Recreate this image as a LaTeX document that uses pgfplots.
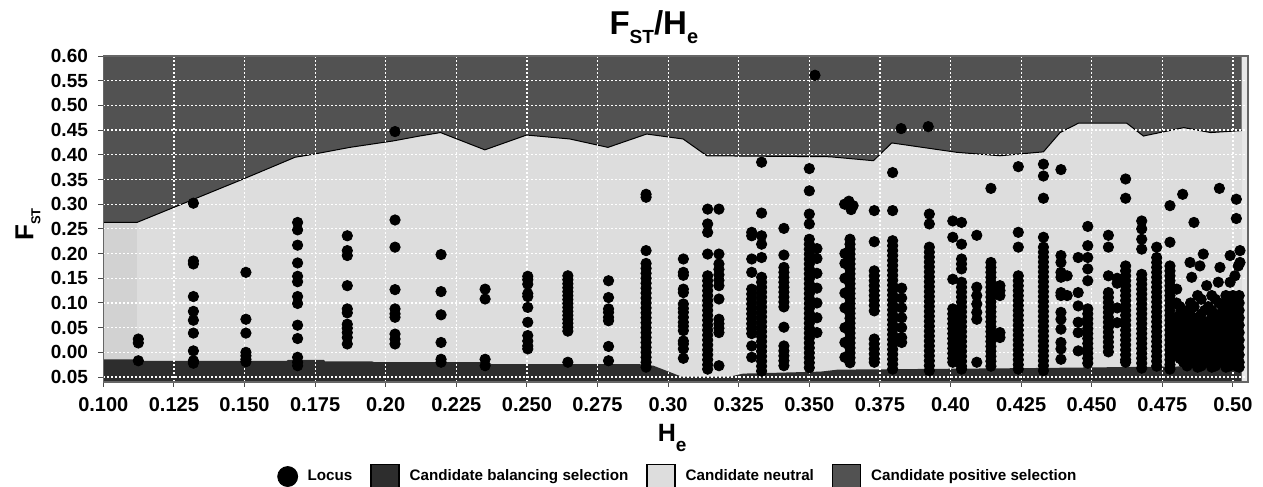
\documentclass[border=0pt]{standalone}
\usepackage{pgfplots}
\pgfplotsset{compat=1.18}
\usepackage{fontspec}
\setmainfont{Liberation Sans}
\definecolor{posc}{HTML}{525252}
\definecolor{neuc}{HTML}{DDDDDD}
\definecolor{balc}{HTML}{2D2D2D}
\definecolor{leftc}{HTML}{D2D2D2}
\definecolor{rightc}{HTML}{E8E8E8}
\newcommand{\sub}[3]{\raisebox{#1}{\fontsize{#2}{#2}\selectfont #3}}
\begin{document}
\begin{tikzpicture}
\begin{axis}[
  at={(51.65pt,52.5pt)}, anchor=south west,
  scale only axis, width=572.3pt, height=163pt,
  xmin=0.1, xmax=0.5053, ymin=-0.06, ymax=0.60,
  set layers=standard,
  xtick={0.1,0.125,0.15,0.175,0.2,0.225,0.25,0.275,0.3,0.325,0.35,0.375,0.4,0.425,0.45,0.475,0.5},
  xticklabels={0.100,0.125,0.150,0.175,0.20,0.225,0.250,0.275,0.30,0.325,0.350,0.375,0.40,0.425,0.450,0.475,0.50},
  ytick={-0.05,0,0.05,0.1,0.15,0.2,0.25,0.3,0.35,0.4,0.45,0.5,0.55,0.6},
  yticklabels={0.05,0.00,0.05,0.10,0.15,0.20,0.25,0.30,0.35,0.40,0.45,0.50,0.55,0.60},
  xticklabel style={font=\fontsize{10}{12}\selectfont\bfseries, inner sep=0pt, anchor=north, yshift=-5pt},
  yticklabel style={font=\fontsize{9.5}{11}\selectfont\bfseries, inner sep=0pt, anchor=east, xshift=-5pt},
  tick pos=left, tick align=outside, major tick length=2.5pt,
  tick style={black!70, line width=0.5pt},
  axis line style={black!60, line width=0.7pt},
  grid=major, grid style={white, line width=0.6pt, dash pattern=on 1pt off 1pt},
  title={F\sub{-4.5pt}{9.5}{ST}/H\sub{-4.5pt}{10}{e}},
  title style={at={(axis description cs:0.481,1.03)}, anchor=base, font=\fontsize{16.5}{19}\selectfont\bfseries, inner sep=0pt},
  xlabel={H\sub{-5pt}{9.5}{e}},
  xlabel style={at={(axis description cs:0.497,-0.1835)}, anchor=base, font=\fontsize{12.5}{15}\selectfont\bfseries, inner sep=0pt},
  ylabel={F\sub{-3.5pt}{6.5}{ST}},
  ylabel style={at={(axis description cs:-0.0611,0.483)}, anchor=base, font=\fontsize{13}{15}\selectfont\bfseries, inner sep=0pt},
  legend columns=4, legend cell align=left,
  legend style={at={(axis description cs:0.152,-0.29)}, anchor=west, draw=none, fill=none, inner sep=0pt,
    font=\fontsize{7.6}{9}\selectfont\bfseries,
    /tikz/every odd column/.append style={column sep=3pt},
    /tikz/every even column/.append style={column sep=7pt}},
]
\addlegendimage{only marks, mark=*, mark size=5pt, black}
\addlegendentry{Locus}
\addlegendimage{legend image code/.code={\draw[black, fill=balc, line width=0.6pt] (0pt,-6pt) rectangle (14pt,6pt);}}
\addlegendentry{Candidate balancing selection}
\addlegendimage{legend image code/.code={\draw[black, fill=neuc, line width=0.6pt] (0pt,-6pt) rectangle (14pt,6pt);}}
\addlegendentry{Candidate neutral}
\addlegendimage{legend image code/.code={\draw[black, fill=posc, line width=0.6pt] (0pt,-6pt) rectangle (14pt,6pt);}}
\addlegendentry{Candidate positive selection}

% regions
\addplot[forget plot, on layer=axis background, fill=rightc, draw=none] coordinates {(0.1,-0.06) (0.5053,-0.06) (0.5053,0.6) (0.1,0.6)};
\addplot[forget plot, on layer=axis background, fill=neuc, draw=none] coordinates {(0.1,-0.06) (0.5031,-0.06) (0.5031,0.6) (0.1,0.6)};
\addplot[forget plot, on layer=axis background, fill=leftc, draw=none] coordinates {(0.1,-0.06) (0.112,-0.06) (0.112,0.6) (0.1,0.6)};
\addplot[forget plot, on layer=axis background, fill=posc, draw=none] coordinates {
 (0.100,0.263) (0.1119,0.263) (0.1496,0.351) (0.1679,0.395) (0.1743,0.401) (0.1873,0.415) (0.2026,0.428)
 (0.2120,0.438) (0.2194,0.445) (0.2351,0.410) (0.2499,0.440) (0.2652,0.432) (0.2787,0.415) (0.2924,0.442)
 (0.3053,0.432) (0.3137,0.398) (0.3573,0.396) (0.3727,0.388) (0.3792,0.424) (0.4022,0.405) (0.4175,0.398)
 (0.4329,0.406) (0.4388,0.445) (0.4453,0.464) (0.4624,0.464) (0.4683,0.438) (0.4826,0.455) (0.4921,0.445)
 (0.5031,0.449) (0.5031,0.60) (0.100,0.60)};
\addplot[forget plot, on layer=axis background, black, line width=0.5pt] coordinates {
 (0.100,0.263) (0.1119,0.263) (0.1496,0.351) (0.1679,0.395) (0.1743,0.401) (0.1873,0.415) (0.2026,0.428)
 (0.2120,0.438) (0.2194,0.445) (0.2351,0.410) (0.2499,0.440) (0.2652,0.432) (0.2787,0.415) (0.2924,0.442)
 (0.3053,0.432) (0.3137,0.398) (0.3573,0.396) (0.3727,0.388) (0.3792,0.424) (0.4022,0.405) (0.4175,0.398)
 (0.4329,0.406) (0.4388,0.445) (0.4453,0.464) (0.4624,0.464) (0.4683,0.438) (0.4826,0.455) (0.4921,0.445)
 (0.5031,0.449)};
\addplot[forget plot, on layer=axis background, fill=balc, draw=none] coordinates {
 (0.100,-0.014) (0.112,-0.014) (0.1125,-0.017) (0.165,-0.017) (0.1655,-0.015) (0.178,-0.015) (0.1785,-0.018)
 (0.195,-0.018) (0.196,-0.020) (0.2365,-0.020) (0.2375,-0.024) (0.2900,-0.024) (0.2948,-0.027) (0.3047,-0.049)
 (0.3219,-0.049) (0.3266,-0.043) (0.3540,-0.039) (0.3600,-0.035) (0.4246,-0.032) (0.4907,-0.028) (0.5031,-0.027)
 (0.5031,-0.06) (0.100,-0.06)};

% loci
\addplot[forget plot, only marks, mark=*, mark size=2.6pt, black] coordinates {
(0.1124,0.027)(0.1124,0.019)(0.1124,-0.017)
(0.1319,0.302)(0.1319,0.185)(0.1319,0.179)(0.1319,0.113)(0.1319,0.083)(0.1319,0.065)(0.1319,0.039)(0.1319,0.003)(0.1319,-0.017)(0.1319,-0.022)
(0.1505,0.162)(0.1505,0.067)(0.1505,0.039)(0.1505,0.000)(0.1505,-0.007)(0.1505,-0.014)(0.1505,-0.019)
(0.1688,0.263)(0.1688,0.248)(0.1688,0.217)(0.1688,0.181)(0.1688,0.154)(0.1688,0.143)(0.1688,0.113)(0.1688,0.099)(0.1688,0.055)(0.1688,0.028)(0.1688,-0.010)(0.1688,-0.020)(0.1688,-0.027)
(0.1864,0.236)(0.1864,0.206)(0.1864,0.196)(0.1864,0.135)(0.1864,0.088)(0.1864,0.080)(0.1864,0.057)(0.1864,0.049)(0.1864,0.040)(0.1864,0.030)(0.1864,0.017)
(0.2033,0.447)(0.2033,0.268)(0.2033,0.213)(0.2033,0.127)(0.2033,0.088)(0.2033,0.078)(0.2033,0.071)(0.2033,0.037)(0.2033,0.027)(0.2033,0.017)
(0.2196,0.198)(0.2196,0.123)(0.2196,0.076)(0.2196,0.020)(0.2196,-0.014)(0.2196,-0.020)
(0.2352,0.128)(0.2352,0.108)(0.2352,-0.014)(0.2352,-0.027)
(0.2503,0.154)(0.2503,0.147)(0.2503,0.138)(0.2503,0.119)(0.2503,0.113)(0.2503,0.091)(0.2503,0.061)(0.2503,0.034)(0.2503,0.023)(0.2503,0.013)(0.2503,0.007)
(0.2645,0.155)(0.2645,0.147)(0.2645,0.139)(0.2645,0.131)(0.2645,0.123)(0.2645,0.115)(0.2645,0.107)(0.2645,0.099)(0.2645,0.091)(0.2645,0.083)(0.2645,0.075)(0.2645,0.067)(0.2645,0.059)(0.2645,0.051)(0.2645,0.043)(0.2645,-0.020)
(0.2789,0.145)(0.2789,0.111)(0.2789,0.088)(0.2789,0.081)(0.2789,0.071)(0.2789,0.064)(0.2789,0.012)(0.2789,-0.017)
(0.2922,0.320)(0.2922,0.314)(0.2922,0.206)(0.2922,0.180)(0.2922,0.170)(0.2922,0.160)(0.2922,0.150)(0.2922,0.140)(0.2922,0.130)(0.2922,0.120)(0.2922,0.110)(0.2922,0.100)(0.2922,0.090)(0.2922,0.080)(0.2922,0.070)(0.2922,0.060)(0.2922,0.050)(0.2922,0.040)(0.2922,0.030)(0.2922,0.020)(0.2922,0.010)(0.2922,0.000)(0.2922,-0.010)(0.2922,-0.020)(0.2922,-0.030)
(0.3054,0.189)(0.3054,0.162)(0.3054,0.156)(0.3054,0.128)(0.3054,0.121)(0.3054,0.098)(0.3054,0.089)(0.3054,0.081)(0.3054,0.071)(0.3054,0.061)(0.3054,0.053)(0.3054,0.044)(0.3054,0.023)(0.3054,0.017)(0.3054,0.007)(0.3054,-0.012)
(0.3140,0.290)(0.3140,0.260)(0.3140,0.243)(0.3140,0.199)(0.3140,0.155)(0.3140,0.145)(0.3140,0.135)(0.3140,0.125)(0.3140,0.115)(0.3140,0.105)(0.3140,0.095)(0.3140,0.085)(0.3140,0.075)(0.3140,0.065)(0.3140,0.055)(0.3140,0.045)(0.3140,0.035)(0.3140,0.025)(0.3140,0.015)(0.3140,0.005)(0.3140,-0.005)(0.3140,-0.015)(0.3140,-0.025)(0.3140,-0.034)
(0.3180,0.290)(0.3180,0.199)(0.3180,0.179)(0.3180,0.168)(0.3180,0.157)(0.3180,0.146)(0.3180,0.135)(0.3180,0.108)(0.3180,0.067)(0.3180,0.058)(0.3180,0.049)(0.3180,0.040)(0.3180,-0.027)
(0.3296,0.243)(0.3296,0.236)(0.3296,0.189)(0.3296,0.162)(0.3296,0.128)(0.3296,0.118)(0.3296,0.108)(0.3296,0.098)(0.3296,0.088)(0.3296,0.078)(0.3296,0.068)(0.3296,0.058)(0.3296,0.048)(0.3296,0.038)(0.3296,0.013)(0.3296,-0.010)
(0.3331,0.385)(0.3331,0.282)(0.3331,0.236)(0.3331,0.219)(0.3331,0.192)(0.3331,0.152)(0.3331,0.142)(0.3331,0.132)(0.3331,0.122)(0.3331,0.112)(0.3331,0.102)(0.3331,0.092)(0.3331,0.082)(0.3331,0.072)(0.3331,0.062)(0.3331,0.052)(0.3331,0.042)(0.3331,0.032)(0.3331,0.022)(0.3331,0.012)(0.3331,0.002)(0.3331,-0.008)(0.3331,-0.018)(0.3331,-0.028)(0.3331,-0.038)
(0.3410,0.251)(0.3410,0.197)(0.3410,0.172)(0.3410,0.162)(0.3410,0.152)(0.3410,0.142)(0.3410,0.132)(0.3410,0.122)(0.3410,0.112)(0.3410,0.102)(0.3410,0.092)(0.3410,0.051)(0.3410,0.013)(0.3410,0.003)(0.3410,-0.007)(0.3410,-0.017)(0.3410,-0.027)
(0.3500,0.372)(0.3500,0.327)(0.3500,0.280)(0.3500,0.260)(0.3500,0.229)(0.3500,0.219)(0.3500,0.209)(0.3500,0.199)(0.3500,0.189)(0.3500,0.179)(0.3500,0.169)(0.3500,0.159)(0.3500,0.149)(0.3500,0.139)(0.3500,0.129)(0.3500,0.119)(0.3500,0.109)(0.3500,0.099)(0.3500,0.089)(0.3500,0.079)(0.3500,0.069)(0.3500,0.059)(0.3500,0.049)(0.3500,0.039)(0.3500,0.029)(0.3500,0.019)(0.3500,0.009)(0.3500,-0.001)(0.3500,-0.011)(0.3500,-0.021)(0.3500,-0.031)
(0.3527,0.210)(0.3527,0.190)(0.3527,0.160)(0.3527,0.130)(0.3527,0.100)(0.3527,0.070)(0.3527,0.040)(0.3520,0.561)
(0.3644,0.229)(0.3644,0.219)(0.3644,0.209)(0.3644,0.199)(0.3644,0.189)(0.3644,0.179)(0.3644,0.169)(0.3644,0.159)(0.3644,0.149)(0.3644,0.139)(0.3644,0.129)(0.3644,0.119)(0.3644,0.109)(0.3644,0.099)(0.3644,0.089)(0.3644,0.079)(0.3644,0.069)(0.3644,0.059)(0.3644,0.049)(0.3644,0.039)(0.3644,0.029)(0.3644,0.019)(0.3644,0.009)(0.3644,-0.001)(0.3644,-0.011)(0.3644,-0.021)
(0.3625,0.300)(0.3640,0.306)(0.3655,0.297)(0.3648,0.289)
(0.3626,0.200)(0.3626,0.180)(0.3626,0.150)(0.3626,0.120)(0.3626,0.090)(0.3626,0.050)(0.3626,0.020)(0.3626,-0.010)
(0.3730,0.287)(0.3730,0.224)(0.3730,0.165)(0.3730,0.155)(0.3730,0.145)(0.3730,0.135)(0.3730,0.125)(0.3730,0.115)(0.3730,0.105)(0.3730,0.095)(0.3730,0.084)(0.3730,0.027)(0.3730,0.017)(0.3730,0.007)(0.3730,-0.003)(0.3730,-0.013)(0.3730,-0.020)
(0.3795,0.364)(0.3795,0.287)(0.3795,0.226)(0.3795,0.216)(0.3795,0.206)(0.3795,0.196)(0.3795,0.186)(0.3795,0.176)(0.3795,0.166)(0.3795,0.156)(0.3795,0.146)(0.3795,0.136)(0.3795,0.126)(0.3795,0.116)(0.3795,0.106)(0.3795,0.096)(0.3795,0.086)(0.3795,0.076)(0.3795,0.066)(0.3795,0.056)(0.3795,0.046)(0.3795,0.036)(0.3795,0.026)(0.3795,0.016)(0.3795,0.006)(0.3795,-0.004)(0.3795,-0.014)(0.3795,-0.024)(0.3795,-0.034)
(0.3827,0.130)(0.3827,0.110)(0.3827,0.090)(0.3827,0.070)(0.3827,0.050)(0.3827,0.030)(0.3827,0.020)(0.3825,0.453)(0.3921,0.457)
(0.3925,0.280)(0.3925,0.260)(0.3925,0.213)(0.3925,0.203)(0.3925,0.193)(0.3925,0.183)(0.3925,0.173)(0.3925,0.163)(0.3925,0.153)(0.3925,0.143)(0.3925,0.133)(0.3925,0.123)(0.3925,0.113)(0.3925,0.103)(0.3925,0.093)(0.3925,0.083)(0.3925,0.073)(0.3925,0.063)(0.3925,0.053)(0.3925,0.043)(0.3925,0.033)(0.3925,0.023)(0.3925,0.013)(0.3925,0.003)(0.3925,-0.007)(0.3925,-0.017)(0.3925,-0.027)(0.3925,-0.037)
(0.4008,0.266)(0.4008,0.233)(0.4008,0.148)(0.4008,0.088)(0.4008,0.078)(0.4008,0.068)(0.4008,0.058)(0.4008,0.048)(0.4008,0.038)(0.4008,0.028)(0.4008,0.018)(0.4008,0.008)(0.4008,-0.002)(0.4008,-0.012)(0.4008,-0.020)
(0.4039,0.263)(0.4039,0.219)(0.4039,0.189)(0.4039,0.179)(0.4039,0.169)(0.4039,0.142)(0.4039,0.132)(0.4039,0.122)(0.4039,0.112)(0.4039,0.102)(0.4039,0.092)(0.4039,0.082)(0.4039,0.072)(0.4039,0.062)(0.4039,0.052)(0.4039,0.042)(0.4039,0.032)(0.4039,0.022)(0.4039,0.012)(0.4039,0.002)(0.4039,-0.008)(0.4039,-0.018)(0.4039,-0.028)(0.4039,-0.034)
(0.4093,0.237)(0.4093,0.132)(0.4093,0.115)(0.4093,0.098)(0.4093,0.081)(0.4093,0.067)(0.4093,-0.020)
(0.4143,0.332)(0.4143,0.182)(0.4143,0.172)(0.4143,0.162)(0.4143,0.152)(0.4143,0.142)(0.4143,0.132)(0.4143,0.122)(0.4143,0.112)(0.4143,0.102)(0.4143,0.092)(0.4143,0.082)(0.4143,0.072)(0.4143,0.062)(0.4143,0.052)(0.4143,0.042)(0.4143,0.032)(0.4143,0.022)(0.4143,0.012)(0.4143,0.002)(0.4143,-0.008)(0.4143,-0.018)(0.4143,-0.028)
(0.4175,0.135)(0.4175,0.125)(0.4175,0.115)(0.4175,0.040)(0.4175,0.030)
(0.4240,0.376)(0.4240,0.243)(0.4240,0.213)(0.4240,0.155)(0.4240,0.145)(0.4240,0.135)(0.4240,0.125)(0.4240,0.115)(0.4240,0.105)(0.4240,0.095)(0.4240,0.085)(0.4240,0.075)(0.4240,0.065)(0.4240,0.055)(0.4240,0.045)(0.4240,0.035)(0.4240,0.025)(0.4240,0.015)(0.4240,0.005)(0.4240,-0.005)(0.4240,-0.015)(0.4240,-0.025)(0.4240,-0.034)
(0.4329,0.381)(0.4329,0.357)(0.4329,0.312)(0.4329,0.233)(0.4329,0.213)(0.4329,0.203)(0.4329,0.193)(0.4329,0.183)(0.4329,0.173)(0.4329,0.163)(0.4329,0.153)(0.4329,0.143)(0.4329,0.133)(0.4329,0.123)(0.4329,0.113)(0.4329,0.103)(0.4329,0.093)(0.4329,0.083)(0.4329,0.073)(0.4329,0.063)(0.4329,0.053)(0.4329,0.043)(0.4329,0.033)(0.4329,0.023)(0.4329,0.013)(0.4329,0.003)(0.4329,-0.007)(0.4329,-0.017)(0.4329,-0.027)(0.4329,-0.037)
(0.4391,0.370)(0.4391,0.196)(0.4391,0.182)(0.4391,0.162)(0.4391,0.152)(0.4391,0.121)(0.4391,0.115)(0.4391,0.081)(0.4391,0.067)(0.4391,0.047)(0.4391,0.020)(0.4391,0.007)(0.4391,-0.014)
(0.4413,0.155)(0.4413,0.115)
(0.4452,0.192)(0.4452,0.121)(0.4452,0.094)(0.4452,0.061)(0.4452,0.040)(0.4452,0.003)
(0.4486,0.255)(0.4486,0.216)(0.4486,0.192)(0.4486,0.169)(0.4486,0.145)(0.4486,0.088)(0.4486,0.078)(0.4486,0.068)(0.4486,0.058)(0.4486,0.048)(0.4486,0.038)(0.4486,0.028)(0.4486,0.018)(0.4486,0.008)(0.4486,-0.002)(0.4486,-0.012)(0.4486,-0.022)
(0.4559,0.237)(0.4559,0.213)(0.4559,0.155)(0.4559,0.121)(0.4559,0.111)(0.4559,0.101)(0.4559,0.091)(0.4559,0.081)(0.4559,0.071)(0.4559,0.061)(0.4559,0.051)(0.4559,0.041)(0.4559,0.031)(0.4559,0.021)(0.4559,0.011)(0.4559,0.001)
(0.4590,0.150)(0.4590,0.140)(0.4590,0.090)(0.4590,0.060)
(0.4620,0.351)(0.4620,0.312)(0.4620,0.175)(0.4620,0.165)(0.4620,0.155)(0.4620,0.145)(0.4620,0.135)(0.4620,0.125)(0.4620,0.115)(0.4620,0.105)(0.4620,0.095)(0.4620,0.085)(0.4620,0.075)(0.4620,0.065)(0.4620,0.055)(0.4620,0.045)(0.4620,0.035)(0.4620,0.025)(0.4620,0.015)(0.4620,0.005)(0.4620,-0.005)(0.4620,-0.015)(0.4620,-0.020)
(0.4677,0.266)(0.4677,0.250)(0.4677,0.229)(0.4677,0.209)(0.4677,0.158)(0.4677,0.148)(0.4677,0.138)(0.4677,0.128)(0.4677,0.118)(0.4677,0.108)(0.4677,0.098)(0.4677,0.088)(0.4677,0.078)(0.4677,0.068)(0.4677,0.058)(0.4677,0.048)(0.4677,0.038)(0.4677,0.028)(0.4677,0.018)(0.4677,0.008)(0.4677,-0.002)(0.4677,-0.012)(0.4677,-0.022)(0.4677,-0.032)
(0.4730,0.213)(0.4730,0.192)(0.4730,0.182)(0.4730,0.172)(0.4730,0.162)(0.4730,0.152)(0.4730,0.142)(0.4730,0.132)(0.4730,0.122)(0.4730,0.112)(0.4730,0.102)(0.4730,0.092)(0.4730,0.082)(0.4730,0.072)(0.4730,0.062)(0.4730,0.052)(0.4730,0.042)(0.4730,0.032)(0.4730,0.022)(0.4730,0.012)(0.4730,0.002)(0.4730,-0.008)(0.4730,-0.018)(0.4730,-0.028)
(0.4777,0.297)(0.4777,0.223)(0.4777,0.175)(0.4777,0.165)(0.4777,0.155)(0.4777,0.145)(0.4777,0.135)(0.4777,0.125)(0.4777,0.115)(0.4777,0.105)(0.4777,0.095)(0.4777,0.085)(0.4777,0.075)(0.4777,0.065)(0.4777,0.055)(0.4777,0.045)(0.4777,0.035)(0.4777,0.025)(0.4777,0.015)(0.4777,0.005)(0.4777,-0.005)(0.4777,-0.015)(0.4777,-0.025)(0.4777,-0.034)
(0.4822,0.320)(0.4862,0.263)(0.4952,0.332)(0.5012,0.310)(0.5012,0.271)
(0.4848,0.182)(0.4895,0.199)(0.4883,0.175)(0.4954,0.172)(0.4990,0.196)(0.5025,0.206)(0.5025,0.182)(0.5019,0.175)(0.4948,0.142)(0.4907,0.135)(0.4854,0.152)(0.4801,0.128)(0.4990,0.142)(0.5007,0.155)
(0.4875,0.115)(0.4925,0.115)(0.4975,0.115)(0.5000,0.115)(0.5022,0.115)
(0.4800,0.100)(0.4850,0.100)(0.4950,0.100)(0.4975,0.100)(0.5000,0.100)(0.5022,0.100)
(0.4825,0.085)(0.4850,0.085)(0.4900,0.085)(0.4925,0.085)(0.4975,0.085)(0.5000,0.085)(0.5022,0.085)
(0.4800,0.070)(0.4825,0.070)(0.4850,0.070)(0.4875,0.070)(0.4925,0.070)(0.4950,0.070)(0.4975,0.070)(0.5000,0.070)(0.5022,0.070)
(0.4800,0.055)(0.4850,0.055)(0.4875,0.055)(0.4900,0.055)(0.4925,0.055)(0.4950,0.055)(0.4975,0.055)(0.5000,0.055)(0.5022,0.055)
(0.4800,0.040)(0.4825,0.040)(0.4850,0.040)(0.4875,0.040)(0.4900,0.040)(0.4925,0.040)(0.4950,0.040)(0.4975,0.040)(0.5000,0.040)(0.5022,0.040)
(0.4800,0.025)(0.4825,0.025)(0.4850,0.025)(0.4875,0.025)(0.4900,0.025)(0.4925,0.025)(0.4950,0.025)(0.4975,0.025)(0.5000,0.025)(0.5022,0.025)
(0.4800,0.010)(0.4825,0.010)(0.4850,0.010)(0.4875,0.010)(0.4900,0.010)(0.4925,0.010)(0.4950,0.010)(0.4975,0.010)(0.5000,0.010)(0.5022,0.010)
(0.4800,-0.005)(0.4825,-0.005)(0.4850,-0.005)(0.4875,-0.005)(0.4900,-0.005)(0.4925,-0.005)(0.4950,-0.005)(0.4975,-0.005)(0.5000,-0.005)(0.5022,-0.005)
(0.4825,-0.020)(0.4850,-0.020)(0.4875,-0.020)(0.4900,-0.020)(0.4925,-0.020)(0.4950,-0.020)(0.4975,-0.020)(0.5000,-0.020)(0.5022,-0.020)
(0.4875,-0.030)(0.4925,-0.030)(0.4975,-0.030)(0.5022,-0.030)
(0.48875,0.1075)(0.49375,0.1075)(0.49875,0.1075)(0.50125,0.1075)
(0.48125,0.0925)(0.48625,0.0925)(0.49125,0.0925)(0.49625,0.0925)(0.49875,0.0925)(0.50125,0.0925)
(0.48125,0.0775)(0.48375,0.0775)(0.48875,0.0775)(0.49375,0.0775)(0.49625,0.0775)(0.49875,0.0775)(0.50125,0.0775)
(0.48125,0.0625)(0.48375,0.0625)(0.48625,0.0625)(0.48875,0.0625)(0.49125,0.0625)(0.49375,0.0625)(0.49625,0.0625)(0.49875,0.0625)(0.50125,0.0625)
(0.48125,0.0475)(0.48375,0.0475)(0.48625,0.0475)(0.48875,0.0475)(0.49125,0.0475)(0.49375,0.0475)(0.49625,0.0475)(0.49875,0.0475)(0.50125,0.0475)
(0.48125,0.0325)(0.48375,0.0325)(0.48625,0.0325)(0.48875,0.0325)(0.49125,0.0325)(0.49375,0.0325)(0.49625,0.0325)(0.49875,0.0325)(0.50125,0.0325)
(0.48125,0.0175)(0.48375,0.0175)(0.48625,0.0175)(0.48875,0.0175)(0.49125,0.0175)(0.49375,0.0175)(0.49625,0.0175)(0.49875,0.0175)(0.50125,0.0175)
(0.48125,0.0025)(0.48375,0.0025)(0.48625,0.0025)(0.48875,0.0025)(0.49125,0.0025)(0.49375,0.0025)(0.49625,0.0025)(0.49875,0.0025)(0.50125,0.0025)
(0.48125,-0.0125)(0.48375,-0.0125)(0.48625,-0.0125)(0.48875,-0.0125)(0.49125,-0.0125)(0.49375,-0.0125)(0.49625,-0.0125)(0.49875,-0.0125)(0.50125,-0.0125)
(0.48375,-0.0275)(0.48875,-0.0275)(0.49375,-0.0275)(0.49875,-0.0275)(0.50125,-0.0275)
};
\end{axis}
\pgfresetboundingbox
\path[use as bounding box] (0,0) rectangle (631.5pt,243.5pt);
\end{tikzpicture}
\end{document}
